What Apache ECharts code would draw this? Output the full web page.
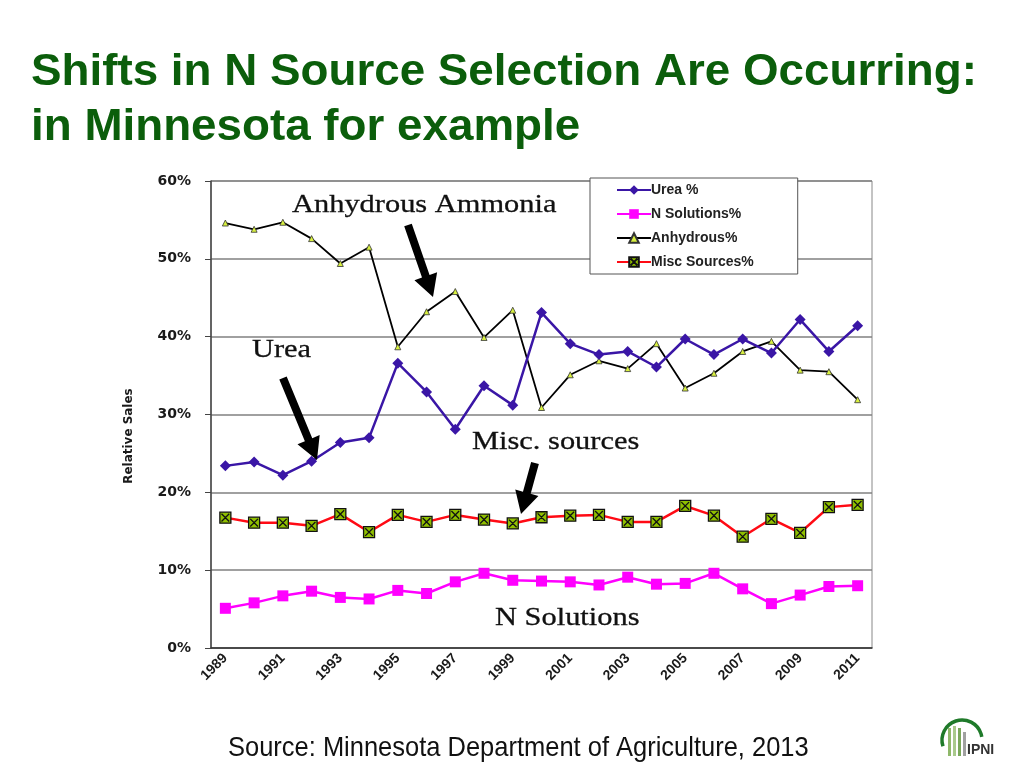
<!DOCTYPE html>
<html>
<head>
<meta charset="utf-8">
<script src="https://cdn.jsdelivr.net/npm/echarts@6/dist/echarts.min.js"></script>
<style>
html,body{margin:0;padding:0;background:#fff;}
#c{width:1024px;height:768px;}
</style>
</head>
<body>
<div id="c"></div>
<script>
const years = ['1989','1990','1991','1992','1993','1994','1995','1996','1997','1998','1999','2000','2001','2002','2003','2004','2005','2006','2007','2008','2009','2010','2011'];
const urea = [23.4, 23.9, 22.2, 24.0, 26.4, 27.0, 36.6, 32.9, 28.1, 33.7, 31.2, 43.1, 39.1, 37.7, 38.1, 36.1, 39.7, 37.7, 39.7, 37.9, 42.2, 38.1, 41.4];
const nSolutions = [5.1, 5.8, 6.7, 7.3, 6.5, 6.3, 7.4, 7.0, 8.5, 9.6, 8.7, 8.6, 8.5, 8.1, 9.1, 8.2, 8.3, 9.6, 7.6, 5.7, 6.8, 7.9, 8.0];
const anhydrous = [54.6, 53.8, 54.7, 52.6, 49.4, 51.5, 38.7, 43.2, 45.8, 39.9, 43.4, 30.9, 35.1, 36.9, 35.9, 39.1, 33.4, 35.3, 38.1, 39.4, 35.7, 35.5, 31.9];
const misc = [16.75, 16.1, 16.1, 15.7, 17.2, 14.9, 17.1, 16.2, 17.1, 16.5, 16.0, 16.8, 17.0, 17.1, 16.2, 16.2, 18.25, 17.0, 14.3, 16.6, 14.8, 18.1, 18.4];
const seriesNames = ['Urea %', 'N Solutions%', 'Anhydrous%', 'Misc Sources%'];
const titleLines = ['Shifts in N Source Selection Are Occurring:', 'in Minnesota for example'];
const sourceText = 'Source: Minnesota Department of Agriculture, 2013';
const yAxisTitle = 'Relative Sales';

function arrow(x1, y1, x2, y2) {
  const dx = x2 - x1, dy = y2 - y1;
  const L = Math.sqrt(dx*dx + dy*dy);
  const ux = dx / L, uy = dy / L;
  const px = -uy, py = ux;
  const sw = 4, hw = 12, hl = 22;
  const bx = x2 - ux*hl, by = y2 - uy*hl;
  return {
    type: 'polygon',
    shape: { points: [
      [x1 + px*sw, y1 + py*sw],
      [bx + px*sw, by + py*sw],
      [bx + px*hw, by + py*hw],
      [x2, y2],
      [bx - px*hw, by - py*hw],
      [bx - px*sw, by - py*sw],
      [x1 - px*sw, y1 - py*sw]
    ]},
    style: { fill: '#000' },
    z: 100
  };
}

const serifText = (text, x, y) => ({
  type: 'text', x: x, y: y, scaleX: 1.17, z: 100,
  style: { text: text, x: 0, y: 0, verticalAlign: 'middle', align: 'left', font: '26px "Liberation Serif", "DejaVu Serif", serif', fill: '#111', stroke: '#111', lineWidth: 0.3 }
});

const chart = echarts.init(document.getElementById('c'));
chart.setOption({
  backgroundColor: '#fff',
  animation: false,
  legend: {
    orient: 'vertical',
    left: 590, top: 178,
    data: seriesNames,
    backgroundColor: '#fff',
    borderColor: '#555',
    borderWidth: 1,
    borderRadius: 0,
    padding: [5, 44, 5, 26],
    itemWidth: 34, itemHeight: 12, itemGap: 10,
    textStyle: { fontFamily: '"Liberation Sans", Arial, sans-serif', fontWeight: 'bold', fontSize: 14, lineHeight: 12, color: '#222', padding: [0,0,0,-5] },
    z: 50
  },
  grid: {
    left: 211, right: 152, top: 181, bottom: 120,
    show: true, borderColor: '#888', borderWidth: 1, backgroundColor: '#fff'
  },
  xAxis: {
    type: 'category',
    data: years,
    boundaryGap: true,
    axisLine: { lineStyle: { color: '#333', width: 1.5 } },
    axisTick: { interval: 0, length: 6, lineStyle: { color: '#333' } },
    axisLabel: { interval: 1, rotate: 45, margin: 8, fontFamily: '"Liberation Sans", Arial, sans-serif', fontWeight: 'bold', fontSize: 14, color: '#1a1a1a' }
  },
  yAxis: {
    type: 'value',
    min: 0, max: 60, interval: 10,
    axisLine: { show: true, lineStyle: { color: '#444', width: 1.5 } },
    axisTick: { show: true, inside: false, length: 6, lineStyle: { color: '#444' } },
    axisLabel: { formatter: '{value}%', margin: 20, fontFamily: '"DejaVu Sans", sans-serif', fontWeight: 'bold', fontSize: 14, color: '#1a1a1a' },
    splitLine: { lineStyle: { color: '#808080', width: 1.5 } }
  },
  series: [
    {
      name: seriesNames[0], type: 'line', data: urea,
      symbol: 'diamond', symbolSize: 11,
      lineStyle: { color: '#3a16a6', width: 2.5 },
      itemStyle: { color: '#3a16a6' }, z: 5
    },
    {
      name: seriesNames[1], type: 'line', data: nSolutions,
      symbol: 'rect', symbolSize: 11,
      lineStyle: { color: '#ff00ff', width: 2.5 },
      itemStyle: { color: '#ff00ff' }, z: 4
    },
    {
      name: seriesNames[2], type: 'line', data: anhydrous,
      symbol: 'triangle', symbolSize: 6,
      lineStyle: { color: '#000', width: 1.8 },
      itemStyle: { color: '#d8f040', borderColor: '#333', borderWidth: 0.8 }, z: 3
    },
    {
      name: seriesNames[3], type: 'line', data: misc,
      symbol: 'path://M0,0H10V10H0Z M1.5,1.5L8.5,8.5 M8.5,1.5L1.5,8.5', symbolSize: 11,
      lineStyle: { color: '#ff0a14', width: 2.5 },
      itemStyle: { color: '#90c000', borderColor: '#111', borderWidth: 1.3 }, z: 4
    }
  ],
  graphic: [
    {
      type: 'text', x: 31, y: 73, scaleX: 1.04, z: 100,
      style: { text: titleLines[0], x: 0, y: 0, verticalAlign: 'middle', font: 'bold 44px "Liberation Sans", Arial, sans-serif', fill: '#0b5e0b' }
    },
    {
      type: 'text', x: 31, y: 128, scaleX: 1.04, z: 100,
      style: { text: titleLines[1], x: 0, y: 0, verticalAlign: 'middle', font: 'bold 44px "Liberation Sans", Arial, sans-serif', fill: '#0b5e0b' }
    },
    {
      type: 'text', x: 228, y: 748, scaleX: 0.91, z: 100,
      style: { text: sourceText, x: 0, y: 0, verticalAlign: 'middle', font: '28px "Liberation Sans", Arial, sans-serif', fill: '#111' }
    },
    {
      type: 'text', x: 129, y: 436, rotation: Math.PI / 2, scaleX: 0.92, z: 100,
      style: { text: yAxisTitle, x: 0, y: 0, align: 'center', verticalAlign: 'middle', font: 'bold 13px "DejaVu Sans", sans-serif', fill: '#1a1a1a' }
    },
    serifText('Anhydrous Ammonia', 292, 205),
    serifText('Urea', 252, 350),
    serifText('Misc. sources', 472, 442),
    serifText('N Solutions', 495, 618),
    arrow(408, 225, 433, 297),
    arrow(283, 378, 317, 460),
    arrow(535, 463, 521, 514),
    {
      type: 'group', x: 940, y: 714, z: 100,
      children: [
        { type: 'arc', shape: { cx: 22, cy: 26, r: 20, startAngle: Math.PI * 0.9, endAngle: Math.PI * 1.95 }, style: { stroke: '#1f7a2a', lineWidth: 3.5, fill: null } },
        { type: 'rect', shape: { x: 8, y: 14, width: 3, height: 28 }, style: { fill: '#8fb86a' } },
        { type: 'rect', shape: { x: 13, y: 12, width: 3, height: 30 }, style: { fill: '#a9c98c' } },
        { type: 'rect', shape: { x: 18, y: 14, width: 3, height: 28 }, style: { fill: '#7aa85a' } },
        { type: 'rect', shape: { x: 23, y: 18, width: 3, height: 24 }, style: { fill: '#a0a0a0' } },
        { type: 'text', x: 27, y: 36, style: { text: 'IPNI', x: 0, y: 0, verticalAlign: 'middle', font: 'bold 14px "Liberation Sans", Arial, sans-serif', fill: '#333' } }
      ]
    }
  ]
});
</script>
</body>
</html>
